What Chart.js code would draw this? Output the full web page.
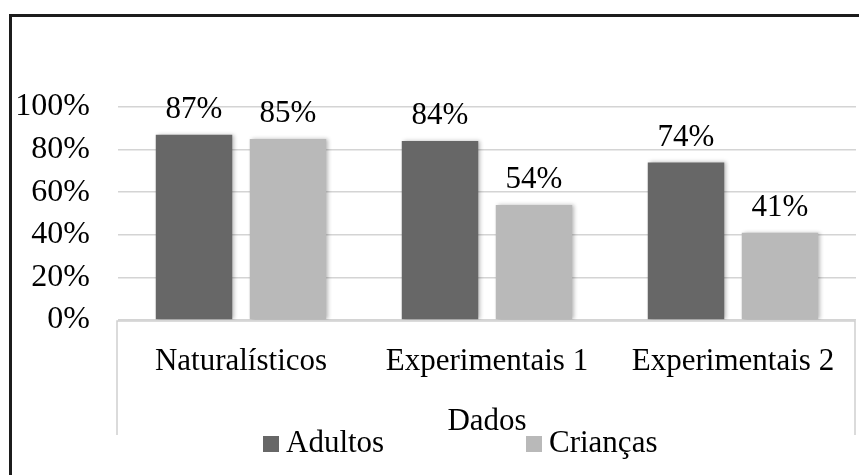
<!DOCTYPE html>
<html>
<head>
<meta charset="utf-8">
<script src="https://cdn.jsdelivr.net/npm/chart.js@4.4.0/dist/chart.umd.min.js"></script>
<style>
  html, body { margin: 0; padding: 0; background: #fff; }
  #wrap { position: relative; width: 859px; height: 475px; overflow: hidden; }
  #frame {
    position: absolute; left: 9px; top: 14px; width: 900px; height: 500px;
    border-left: 3px solid #1c1c1c; border-top: 3px solid #1c1c1c;
  }
  canvas { position: absolute; left: 0; top: 0; }
</style>
</head>
<body>
<div id="wrap">
  <div id="frame"></div>
  <canvas id="chart" width="859" height="475"></canvas>
</div>
<script>
/***** Data *****/
const categories = ["Naturalísticos", "Experimentais 1", "Experimentais 2"];
const adultos = [87, 84, 74];
const criancas = [85, 54, 41];
const yTicks = [0, 20, 40, 60, 80, 100];
const axisTitle = "Dados";

const serif = "'Liberation Serif', 'Times New Roman', serif";
const darkGray = "#676767";
const lightGray = "#b9b9b9";

/***** Plugins *****/
// Soft shadow under the bars
const barShadow = {
  id: "barShadow",
  beforeDatasetsDraw: (chart) => {
    const ctx = chart.ctx;
    ctx.save();
    ctx.shadowColor = "rgba(0,0,0,0.28)";
    ctx.shadowBlur = 4;
    ctx.shadowOffsetX = 2;
    ctx.shadowOffsetY = 0;
  },
  afterDatasetsDraw: (chart) => {
    chart.ctx.restore();
  },
};

// Light box round the category labels
const axisBox = {
  id: "axisBox",
  beforeDatasetsDraw: (chart) => {
    const { ctx, chartArea } = chart;
    const top = chartArea.bottom + 1;
    const bottom = chartArea.bottom + 115;
    const left = chartArea.left - 1;
    const right = chartArea.right - 1;
    ctx.save();
    ctx.strokeStyle = "#cfcfcf";
    ctx.lineWidth = 1.5;
    ctx.beginPath();
    ctx.moveTo(left, bottom);
    ctx.lineTo(left, top);
    ctx.lineTo(right, top);
    ctx.lineTo(right, bottom);
    ctx.stroke();
    ctx.restore();
  },
};

// Percent labels above each bar
const valueLabels = {
  id: "valueLabels",
  afterDatasetsDraw: (chart) => {
    const ctx = chart.ctx;
    ctx.save();
    ctx.font = "31px " + serif;
    ctx.fillStyle = "#000";
    ctx.textAlign = "center";
    ctx.textBaseline = "middle";
    chart.data.datasets.forEach((ds, i) => {
      chart.getDatasetMeta(i).data.forEach((bar, j) => {
        ctx.fillText(ds.data[j] + "%", bar.x, bar.y - 25);
      });
    });
    ctx.restore();
  },
};

// Legend drawn by hand, so the two items can sit far apart
const bottomLegend = {
  id: "bottomLegend",
  afterDraw: (chart) => {
    const ctx = chart.ctx;
    const xs = [263, 526];
    const y = 444;
    ctx.save();
    ctx.font = "31px " + serif;
    ctx.textBaseline = "middle";
    ctx.textAlign = "left";
    chart.data.datasets.forEach((ds, i) => {
      ctx.fillStyle = ds.backgroundColor;
      ctx.fillRect(xs[i], y - 8, 16, 16);
      ctx.fillStyle = "#000";
      ctx.fillText(ds.label, xs[i] + 23, y);
    });
    ctx.restore();
  },
};

/***** Chart *****/
new Chart(document.querySelector("#chart"), {
  type: "bar",
  data: {
    labels: categories,
    datasets: [
      {
        label: "Adultos",
        data: adultos,
        backgroundColor: darkGray,
        borderWidth: 0,
        categoryPercentage: 0.764,
        barPercentage: 0.814,
      },
      {
        label: "Crianças",
        data: criancas,
        backgroundColor: lightGray,
        borderWidth: 0,
        categoryPercentage: 0.764,
        barPercentage: 0.814,
      },
    ],
  },
  options: {
    responsive: false,
    animation: false,
    layout: { padding: { top: 107, right: 3, left: 0, bottom: 0 } },
    plugins: {
      legend: { display: false },
      tooltip: { enabled: false },
    },
    scales: {
      x: {
        grid: { display: false },
        border: { display: false },
        ticks: {
          padding: 15,
          autoSkip: false,
          maxRotation: 0,
          color: "#000",
          font: { family: serif, size: 31 },
        },
        title: {
          display: true,
          text: axisTitle,
          color: "#000",
          font: { family: serif, size: 31 },
          padding: { top: 0, bottom: 35 },
        },
        afterFit: (scale) => {
          scale.height = 155;
        },
      },
      y: {
        min: yTicks[0],
        max: yTicks[yTicks.length - 1],
        grid: { color: "#d4d4d4", lineWidth: 1.5, drawTicks: false },
        border: { display: false },
        afterBuildTicks: (scale) => {
          scale.ticks = yTicks.map((v) => ({ value: v }));
        },
        ticks: {
          padding: 28,
          color: "#000",
          font: { family: serif, size: 32 },
          callback: (v) => v + "%",
        },
        afterFit: (scale) => {
          scale.width = 118;
        },
      },
    },
  },
  plugins: [axisBox, barShadow, valueLabels, bottomLegend],
});
</script>
</body>
</html>
